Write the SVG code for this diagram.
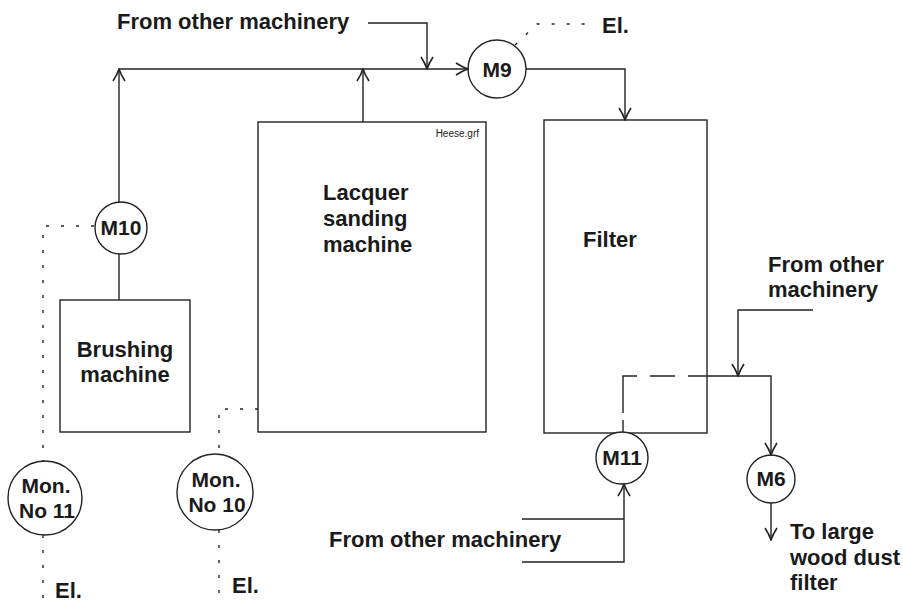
<svg xmlns="http://www.w3.org/2000/svg" width="903" height="602" viewBox="0 0 903 602">
  <style>
    .box { fill: #fff; stroke: #222; stroke-width: 1.4; }
    .motor { fill: #fff; stroke: #222; stroke-width: 1.4; }
    .pipe { fill: none; stroke: #222; stroke-width: 1.4; }
    .dot { fill: none; stroke: #222; stroke-width: 1.4; stroke-dasharray: 3 12; }
    .lbl { font-family: "Liberation Sans", Arial, sans-serif; font-weight: bold; font-size: 22px; fill: #1a1a1a; }
    .mlbl { font-family: "Liberation Sans", Arial, sans-serif; font-weight: bold; font-size: 21px; fill: #1a1a1a; text-anchor: middle; }
    .mid { text-anchor: middle; }
    .tiny { font-family: "Liberation Sans", Arial, sans-serif; font-size: 10px; fill: #1a1a1a; }
  </style>
  <defs>
    <marker id="arr" viewBox="0 0 14 14" refX="13" refY="7" markerWidth="14" markerHeight="14" markerUnits="userSpaceOnUse" orient="auto">
      <path d="M1,1 Q7,5 13,7 Q7,9 1,13" fill="none" stroke="#222" stroke-width="1.6"/>
    </marker>
  </defs>
  <rect width="903" height="602" fill="#fff"/>

  <g id="brushing-machine">
    <rect class="box" x="60" y="300" width="130" height="132"/>
    <text class="lbl mid" x="125" y="357">Brushing</text>
    <text class="lbl mid" x="125" y="382">machine</text>
  </g>

  <g id="lacquer-sanding-machine">
    <rect class="box" x="258" y="122" width="228" height="310"/>
    <text class="lbl" x="323" y="200">Lacquer</text>
    <text class="lbl" x="323" y="226">sanding</text>
    <text class="lbl" x="323" y="252">machine</text>
    <text class="tiny" x="479" y="137" text-anchor="end">Heese.grf</text>
  </g>

  <g id="filter">
    <rect class="box" x="544" y="120" width="163" height="313"/>
    <text class="lbl" x="583" y="247">Filter</text>
  </g>

  <g id="m9">
    <circle class="motor" cx="497" cy="69" r="29"/>
    <text class="mlbl" x="497" y="77">M9</text>
  </g>
  <g id="m10">
    <circle class="motor" cx="121" cy="228" r="26"/>
    <text class="mlbl" x="121" y="235">M10</text>
  </g>
  <g id="m11">
    <circle class="motor" cx="622" cy="458" r="26"/>
    <text class="mlbl" x="622" y="465">M11</text>
  </g>
  <g id="m6">
    <circle class="motor" cx="771" cy="479" r="24"/>
    <text class="mlbl" x="771" y="486">M6</text>
  </g>
  <g id="mon-11">
    <circle class="motor" cx="45" cy="498" r="37"/>
    <text class="mlbl" x="46" y="493">Mon.</text>
    <text class="mlbl" x="47" y="518">No 11</text>
  </g>
  <g id="mon-10">
    <circle class="motor" cx="215" cy="492" r="38"/>
    <text class="mlbl" x="216" y="487">Mon.</text>
    <text class="mlbl" x="217" y="512">No 10</text>
  </g>

  <!-- ducts and signal lines -->
  <g id="connectors">
    <path class="pipe" d="M119,202 V69" marker-end="url(#arr)"/>
    <path class="pipe" d="M119,69 H468" marker-end="url(#arr)"/>
    <path class="pipe" d="M363,122 V69" marker-end="url(#arr)"/>
    <path class="pipe" d="M368,23 H427 V69" marker-end="url(#arr)"/>
    <path class="pipe" d="M526,69 H625 V120" marker-end="url(#arr)"/>
    <path class="pipe" d="M119,254 V300"/>
    <!-- duct hidden behind the filter housing -->
    <path class="pipe" d="M623,432 V420 M623,413 V376 H637 M650,376 H675"/>
    <path class="pipe" d="M688,376 H771 V455" marker-end="url(#arr)"/>
    <path class="pipe" d="M813,310 H738 V376" marker-end="url(#arr)"/>
    <path class="pipe" d="M771,503 V540" marker-end="url(#arr)"/>
    <path class="pipe" d="M522,519 H624 M522,562 H624 V484" marker-end="url(#arr)"/>
    <!-- electrical supply -->
    <path class="dot" d="M515,45 L537,24 H590"/>
    <path class="dot" d="M94,226 H43 V461"/>
    <path class="dot" d="M43,535 V602"/>
    <path class="dot" d="M258,409 H219 V454"/>
    <path class="dot" d="M219,530 V602"/>
  </g>

  <g id="labels">
    <text class="lbl" x="117" y="29">From other machinery</text>
    <text class="lbl" x="602" y="33">El.</text>
    <text class="lbl" x="768" y="272">From other</text>
    <text class="lbl" x="768" y="297">machinery</text>
    <text class="lbl" x="329" y="547">From other machinery</text>
    <text class="lbl" x="790" y="539">To large</text>
    <text class="lbl" x="790" y="565">wood dust</text>
    <text class="lbl" x="790" y="590">filter</text>
    <text class="lbl" x="55" y="598">El.</text>
    <text class="lbl" x="232" y="593">El.</text>
  </g>
</svg>
